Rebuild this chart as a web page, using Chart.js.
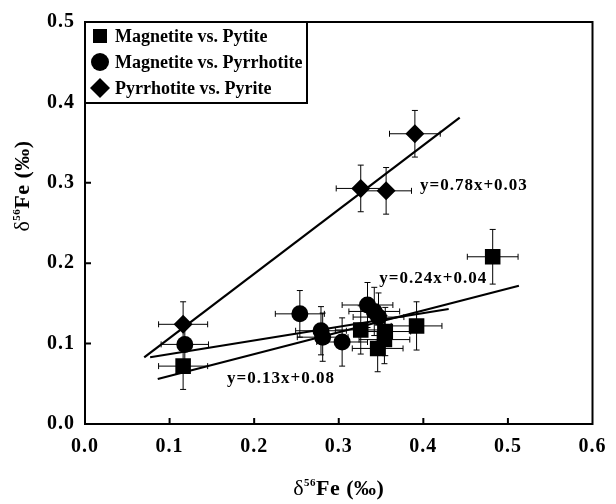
<!DOCTYPE html>
<html>
<head>
<meta charset="utf-8">
<script src="https://cdn.jsdelivr.net/npm/chart.js@4"></script>
<style>
  html, body { margin: 0; padding: 0; background: #fff; }
</style>
</head>
<body>
<canvas id="chart" width="616" height="504"></canvas>
<script>
// 1) Data

const seriesNames = ["Magnetite vs. Pytite", "Magnetite vs. Pyrrhotite", "Pyrrhotite vs. Pyrite"];

// Magnetite vs. Pytite (squares)
const mtPyX    = [0.116, 0.326, 0.355, 0.354, 0.346, 0.392, 0.482];
const mtPyY    = [0.072, 0.117, 0.115, 0.105, 0.094, 0.122, 0.208];
const mtPyXErr = [0.029, 0.030, 0.030, 0.030, 0.030, 0.030, 0.030];
const mtPyYErr = [0.029, 0.030, 0.030, 0.030, 0.029, 0.030, 0.034];

// Magnetite vs. Pyrrhotite (circles)
const mtPoX    = [0.118, 0.254, 0.279, 0.281, 0.304, 0.334, 0.342, 0.347];
const mtPoY    = [0.099, 0.137, 0.116, 0.108, 0.102, 0.148, 0.140, 0.133];
const mtPoXErr = [0.028, 0.029, 0.030, 0.030, 0.030, 0.030, 0.030, 0.030];
const mtPoYErr = [0.028, 0.029, 0.030, 0.030, 0.030, 0.028, 0.030, 0.030];

// Pyrrhotite vs. Pyrite (diamonds)
const poPyX    = [0.116, 0.326, 0.356, 0.390];
const poPyY    = [0.124, 0.293, 0.290, 0.361];
const poPyXErr = [0.029, 0.029, 0.030, 0.030];
const poPyYErr = [0.028, 0.029, 0.029, 0.029];

// regression lines (end points)
const fitMtPyX = [0.086, 0.513];
const fitMtPyY = [0.056, 0.172];
const fitMtPoX = [0.077, 0.430];
const fitMtPoY = [0.083, 0.143];
const fitPoPyX = [0.070, 0.443];
const fitPoPyY = [0.083, 0.381];

// equation labels
const eqTexts = ["y=0.78x+0.03", "y=0.24x+0.04", "y=0.13x+0.08"];
const eqX = [0.396, 0.348, 0.168];
const eqY = [0.296, 0.181, 0.056];

const xTicks = [0, 0.1, 0.2, 0.3, 0.4, 0.5, 0.6];
const yTicks = [0, 0.1, 0.2, 0.3, 0.4, 0.5];

const FONT = "'Liberation Serif', 'Times New Roman', serif";

function toPoints(xs, ys) {
    return xs.map((x, i) => ({ x: x, y: ys[i] }));
}


// 2) Plugins: error bars, frame with inner ticks, legend box, labels

const errorBars = {
    id: "errorBars",
    beforeDatasetsDraw(chart) {
        const { ctx, scales: { x, y } } = chart;
        const cap = 3;
        ctx.save();
        ctx.strokeStyle = "#000";
        ctx.lineWidth = 1;
        chart.data.datasets.forEach((ds) => {
            if (!ds.xErr) return;
            ds.data.forEach((p, i) => {
                const px = x.getPixelForValue(p.x);
                const py = y.getPixelForValue(p.y);
                const xl = x.getPixelForValue(p.x - ds.xErr[i]);
                const xr = x.getPixelForValue(p.x + ds.xErr[i]);
                const yt = y.getPixelForValue(p.y + ds.yErr[i]);
                const yb = y.getPixelForValue(p.y - ds.yErr[i]);
                ctx.beginPath();
                ctx.moveTo(xl, py); ctx.lineTo(xr, py);
                ctx.moveTo(xl, py - cap); ctx.lineTo(xl, py + cap);
                ctx.moveTo(xr, py - cap); ctx.lineTo(xr, py + cap);
                ctx.moveTo(px, yt); ctx.lineTo(px, yb);
                ctx.moveTo(px - cap, yt); ctx.lineTo(px + cap, yt);
                ctx.moveTo(px - cap, yb); ctx.lineTo(px + cap, yb);
                ctx.stroke();
            });
        });
        ctx.restore();
    }
};

function drawDeltaLabel(ctx, cx, cy) {
    const parts = [
        { t: "δ", f: "22px " + FONT, dy: 0 },
        { t: "56", f: "bold 11px " + FONT, dy: -9 },
        { t: "Fe (‰)", f: "bold 22px " + FONT, dy: 0 }
    ];
    let total = 0;
    parts.forEach((p) => { ctx.font = p.f; p.w = ctx.measureText(p.t).width; total += p.w; });
    let xx = cx - total / 2;
    ctx.textAlign = "left";
    ctx.textBaseline = "alphabetic";
    parts.forEach((p) => {
        ctx.font = p.f;
        ctx.fillText(p.t, xx, cy + 7 + p.dy);
        xx += p.w;
    });
}

const decorations = {
    id: "decorations",
    beforeDraw(chart) {
        chart.ctx.letterSpacing = "1px";
    },
    afterDraw(chart) {
        const { ctx, chartArea: a, scales: { x, y } } = chart;
        ctx.save();
        ctx.strokeStyle = "#000";
        ctx.fillStyle = "#000";

        // frame
        ctx.lineWidth = 2;
        ctx.strokeRect(a.left, a.top, a.right - a.left, a.bottom - a.top);

        // inner ticks
        ctx.beginPath();
        xTicks.slice(1, -1).forEach((v) => {
            const px = x.getPixelForValue(v);
            ctx.moveTo(px, a.bottom); ctx.lineTo(px, a.bottom - 6);
        });
        yTicks.slice(1, -1).forEach((v) => {
            const py = y.getPixelForValue(v);
            ctx.moveTo(a.left, py); ctx.lineTo(a.left + 6, py);
        });
        ctx.stroke();

        // legend box
        const lx = a.left, ly = a.top, lw = 222, lh = 81;
        ctx.fillStyle = "#fff";
        ctx.fillRect(lx, ly, lw, lh);
        ctx.strokeRect(lx, ly, lw, lh);
        ctx.fillStyle = "#000";
        const rowY = [ly + 14, ly + 40, ly + 66];
        const mx = lx + 15;
        // square
        ctx.fillRect(mx - 7, rowY[0] - 7, 14, 14);
        // circle
        ctx.beginPath();
        ctx.arc(mx, rowY[1], 9, 0, Math.PI * 2);
        ctx.fill();
        // diamond
        ctx.beginPath();
        ctx.moveTo(mx, rowY[2] - 10); ctx.lineTo(mx + 10, rowY[2]);
        ctx.lineTo(mx, rowY[2] + 10); ctx.lineTo(mx - 10, rowY[2]);
        ctx.closePath();
        ctx.fill();
        ctx.font = "bold 18px " + FONT;
        ctx.letterSpacing = "0px";
        ctx.textAlign = "left";
        ctx.textBaseline = "middle";
        seriesNames.forEach((name, i) => {
            ctx.fillText(name, lx + 30, rowY[i] + 1);
        });

        // equations
        ctx.font = "bold 17px " + FONT;
        ctx.letterSpacing = "1px";
        eqTexts.forEach((t, i) => {
            ctx.fillText(t, x.getPixelForValue(eqX[i]), y.getPixelForValue(eqY[i]));
        });

        // axis titles
        ctx.letterSpacing = "0.5px";
        drawDeltaLabel(ctx, (a.left + a.right) / 2, 488);
        ctx.translate(22, 186);
        ctx.rotate(-Math.PI / 2);
        drawDeltaLabel(ctx, 0, 0);

        ctx.restore();
    }
};


// 3) Build chart

const pointBase = {
    type: "scatter",
    backgroundColor: "#000",
    borderColor: "#000",
    borderWidth: 0,
    order: 0
};

const lineBase = {
    type: "line",
    borderColor: "#000",
    borderWidth: 2.2,
    pointRadius: 0,
    fill: false,
    order: 1
};

new Chart(document.getElementById("chart"), {
    type: "scatter",
    data: {
        datasets: [
            { ...pointBase, label: seriesNames[0], data: toPoints(mtPyX, mtPyY),
              xErr: mtPyXErr, yErr: mtPyYErr, pointStyle: "rect", pointRadius: 11 },
            { ...pointBase, label: seriesNames[1], data: toPoints(mtPoX, mtPoY),
              xErr: mtPoXErr, yErr: mtPoYErr, pointStyle: "circle", pointRadius: 8.5 },
            { ...pointBase, label: seriesNames[2], data: toPoints(poPyX, poPyY),
              xErr: poPyXErr, yErr: poPyYErr, pointStyle: "rectRot", pointRadius: 9.5 },
            { ...lineBase, label: "fit1", data: toPoints(fitMtPyX, fitMtPyY) },
            { ...lineBase, label: "fit2", data: toPoints(fitMtPoX, fitMtPoY) },
            { ...lineBase, label: "fit3", data: toPoints(fitPoPyX, fitPoPyY) }
        ]
    },
    options: {
        responsive: false,
        animation: false,
        layout: { padding: { top: 15, right: 19, left: 0, bottom: 0 } },
        plugins: {
            legend: { display: false },
            tooltip: { enabled: false }
        },
        scales: {
            x: {
                type: "linear",
                min: 0,
                max: 0.6,
                afterFit(scale) { scale.height = 80; },
                afterBuildTicks(scale) { scale.ticks = xTicks.map((v) => ({ value: v })); },
                grid: { display: false, drawTicks: false },
                border: { display: false },
                ticks: {
                    color: "#000",
                    padding: 11,
                    font: { family: FONT, size: 20, weight: "bold" },
                    callback: (v) => v.toFixed(1)
                }
            },
            y: {
                type: "linear",
                min: 0,
                max: 0.5,
                afterFit(scale) { scale.width = 85; },
                afterBuildTicks(scale) { scale.ticks = yTicks.map((v) => ({ value: v })); },
                grid: { display: false, drawTicks: false },
                border: { display: false },
                ticks: {
                    color: "#000",
                    padding: 10,
                    font: { family: FONT, size: 20, weight: "bold" },
                    callback: (v) => v.toFixed(1)
                }
            }
        }
    },
    plugins: [errorBars, decorations]
});
</script>
</body>
</html>
